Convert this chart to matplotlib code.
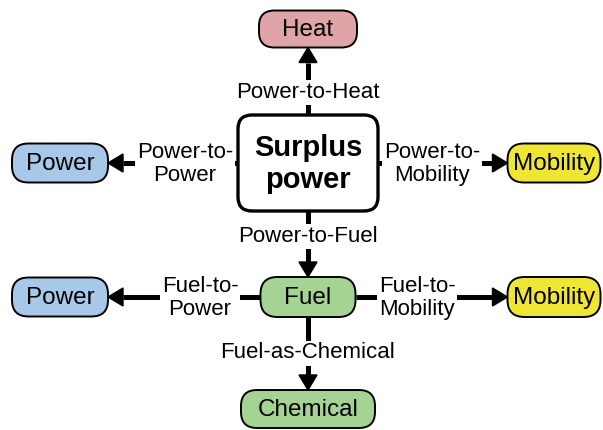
import matplotlib
matplotlib.use("Agg")
import matplotlib.pyplot as plt
from matplotlib.patches import FancyBboxPatch, Polygon

plt.rcParams['font.family'] = ['Liberation Sans', 'DejaVu Sans']

# nodes of the diagram (pixel layout, y grows downwards)
node_names = ["Surplus\npower", "Heat", "Power", "Mobility", "Fuel", "Power", "Mobility", "Chemical"]
node_x = [308, 308, 60, 554, 308, 60, 554, 308]
node_y = [163, 29, 163, 163, 297, 297, 297, 409]
node_w = [140, 98, 96, 93, 95, 96, 93, 134]
node_h = [96, 37, 39, 39, 40, 39, 40, 38]
node_colors = ["white", "#dfa4a8", "#a8c8ea", "#efe534", "#a4d394", "#a8c8ea", "#efe534", "#a4d394"]

# edges: source index, target index, label, label position
edge_src = [0, 0, 0, 0, 4, 4, 4]
edge_dst = [1, 2, 3, 4, 5, 6, 7]
edge_labels = ["Power-to-Heat", "Power-to-\nPower", "Power-to-\nMobility", "Power-to-Fuel",
               "Fuel-to-\nPower", "Fuel-to-\nMobility", "Fuel-as-Chemical"]
label_x = [308, 185, 432, 308, 200, 417, 308]
label_y = [92, 164, 164, 236, 298, 298, 353]

fig = plt.figure(figsize=(6.03, 4.30), dpi=100)
ax = fig.add_axes([0, 0, 1, 1])
ax.set_xlim(0, 603)
ax.set_ylim(430, 0)
ax.axis('off')

# boxes
for i, name in enumerate(node_names):
    x0 = node_x[i] - node_w[i] / 2
    y0 = node_y[i] - node_h[i] / 2
    r = 14 if i == 0 else node_h[i] / 2 - 3
    lw = 2.4 if i == 0 else 1.4
    box = FancyBboxPatch((x0, y0), node_w[i], node_h[i],
                         boxstyle="round,pad=0,rounding_size=%g" % r,
                         facecolor=node_colors[i], edgecolor='black', lw=lw, zorder=3)
    ax.add_patch(box)
    if i == 0:
        ax.text(node_x[i], node_y[i] + 1, name, ha='center', va='center', fontsize=21,
                fontweight='bold', linespacing=1.2, zorder=4)
    else:
        ax.text(node_x[i], node_y[i] + 1, name, ha='center', va='center', fontsize=17.5, zorder=4)

# arrows
head_len = 15
head_half = 9
for s, d in zip(edge_src, edge_dst):
    sx, sy = node_x[s], node_y[s]
    dx, dy = node_x[d], node_y[d]
    if sx == dx:
        x = sx
        if dy < sy:
            y_start = sy - node_h[s] / 2
            y_tip = dy + node_h[d] / 2
            base = y_tip + head_len
        else:
            y_start = sy + node_h[s] / 2
            y_tip = dy - node_h[d] / 2
            base = y_tip - head_len
        ax.plot([x, x], [y_start, base], color='black', lw=3.6, solid_capstyle='butt', zorder=1)
        ax.add_patch(Polygon([(x, y_tip), (x - head_half, base), (x + head_half, base)],
                             closed=True, color='black', zorder=2))
    else:
        y = sy
        if dx < sx:
            x_start = sx - node_w[s] / 2
            x_tip = dx + node_w[d] / 2
            base = x_tip + head_len
        else:
            x_start = sx + node_w[s] / 2
            x_tip = dx - node_w[d] / 2
            base = x_tip - head_len
        ax.plot([x_start, base], [y, y], color='black', lw=3.6, solid_capstyle='butt', zorder=1)
        ax.add_patch(Polygon([(x_tip, y), (base, y - head_half), (base, y + head_half)],
                             closed=True, color='black', zorder=2))

# edge labels sit on a white patch that cuts the arrow
for lab, lx, ly in zip(edge_labels, label_x, label_y):
    ax.text(lx, ly, lab, ha='center', va='center', fontsize=16, linespacing=1.15, zorder=5,
            bbox=dict(facecolor='white', edgecolor='none', pad=1.5))

fig.savefig("out.png", dpi=100)
